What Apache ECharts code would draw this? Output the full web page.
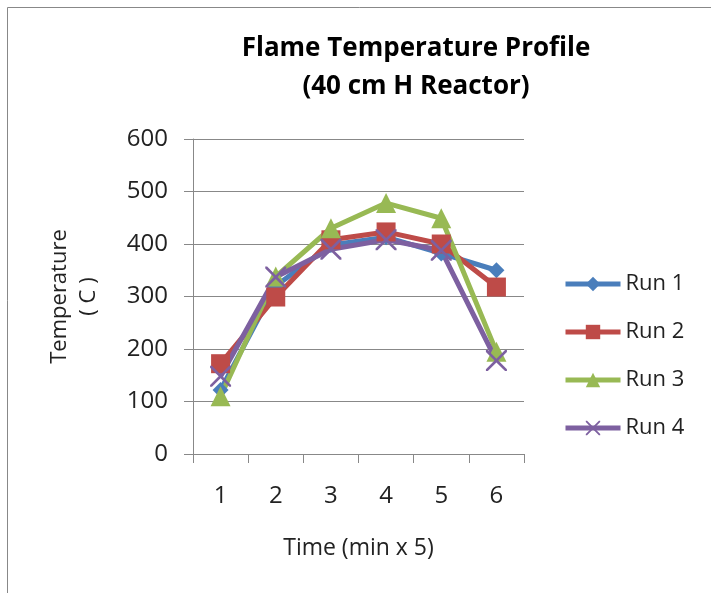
<!DOCTYPE html>
<html><head><meta charset="utf-8">
<script src="https://cdn.jsdelivr.net/npm/echarts@6/dist/echarts.min.js"></script>
<style>html,body{margin:0;padding:0;background:#fff}#c{width:711px;height:593px}</style>
</head><body><div id="c"></div>
<script>
const categories = ['1','2','3','4','5','6'];
const run1 = [122, 320, 398, 413, 382, 350];
const run2 = [172, 299, 408, 423, 400, 318];
const run3 = [110, 338, 430, 478, 449, 195];
const run4 = [148, 337, 390, 408, 388, 178];
const seriesNames = ['Run 1','Run 2','Run 3','Run 4'];
const colors = ['#4A7EBB','#BE4B48','#98B954','#7D60A0'];
const FONT = 'Open Sans';
const xSym = 'path://M0,0L0.9,0L5,4.1L9.1,0L10,0L10,0.9L5.9,5L10,9.1L10,10L9.1,10L5,5.9L0.9,10L0,10L0,9.1L4.1,5L0,0.9Z';
const symbols = ['diamond','rect','triangle',xSym];
const symSizes = [16,19,20,21];
const datas = [run1, run2, run3, run4];
const chart = echarts.init(document.getElementById('c'));
chart.setOption({
  animation:false,
  backgroundColor:'#fff',
  title:{text:'Flame Temperature Profile\n(40 cm H Reactor)', left:411, top:25, textAlign:'center',
    textStyle:{fontFamily:FONT,fontWeight:'bold',fontSize:26,lineHeight:38,color:'#000'}},
  graphic:[{type:'rect',shape:{x:7.5,y:7.5,width:800,height:700},style:{fill:'none',stroke:'#888',lineWidth:1},silent:true}],
  legend:{orient:'vertical',left:558,top:268,itemWidth:55,itemHeight:18,itemGap:26,
    lineStyle:{width:5},
    textStyle:{fontFamily:FONT,fontSize:22,color:'#222'},data:seriesNames},
  grid:{left:193,right:187,top:139,bottom:139},
  xAxis:{type:'category',data:categories,boundaryGap:true,
    name:'Time (min x 5)',nameLocation:'middle',nameGap:83,
    nameTextStyle:{fontFamily:FONT,fontSize:23,color:'#222'},
    axisLine:{lineStyle:{color:'#888',width:1}},
    axisTick:{show:true,length:9,lineStyle:{color:'#888'}},
    axisLabel:{fontFamily:FONT,fontSize:24,color:'#222',margin:30}},
  yAxis:{type:'value',min:0,max:600,interval:100,
    name:'Temperature\n( C )',nameLocation:'middle',nameGap:90,nameRotate:90,
    nameTextStyle:{fontFamily:FONT,fontSize:22,color:'#222',lineHeight:29},
    axisLine:{show:true,lineStyle:{color:'#888',width:1}},
    axisTick:{show:true,length:9,lineStyle:{color:'#888'}},
    axisLabel:{fontFamily:FONT,fontSize:24,color:'#222',margin:25},
    splitLine:{lineStyle:{color:'#888',width:1}}},
  series: datas.map((d,i)=>({
    name:seriesNames[i],type:'line',data:d,symbol:symbols[i],symbolSize:symSizes[i],
    lineStyle:{color:colors[i],width:5},itemStyle:{color:colors[i]},
    emphasis:{disabled:true}
  }))
});
</script></body></html>
